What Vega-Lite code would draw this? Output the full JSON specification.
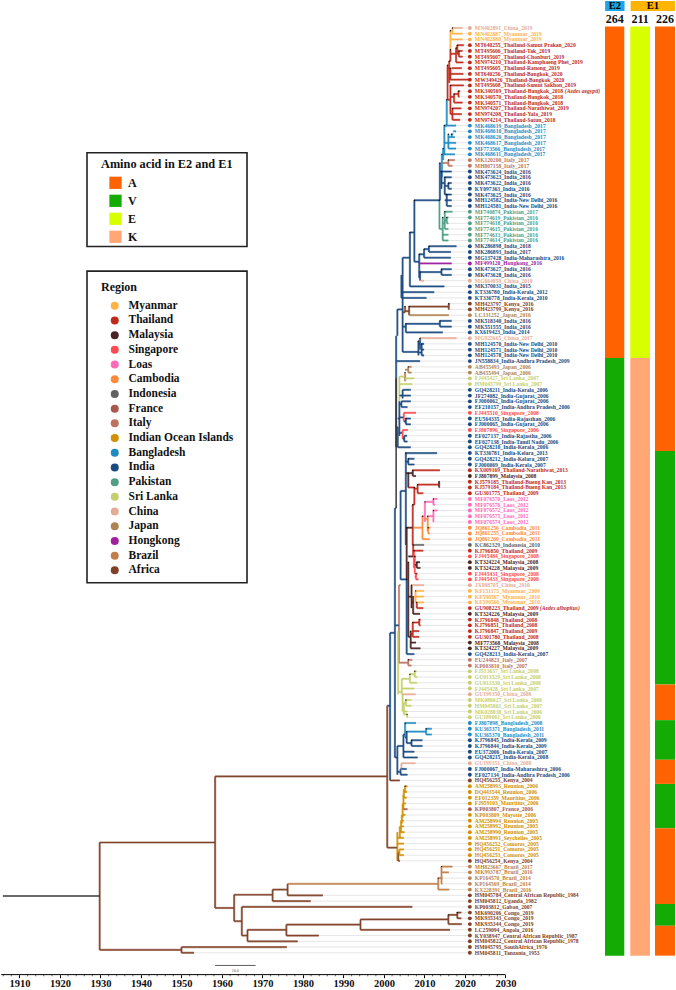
{"$schema":"https://vega.github.io/schema/vega-lite/v6.json","width":676,"height":990,"padding":0,"autosize":{"type":"fit","contains":"padding"},"background":"white",
"config":{"view":{"stroke":null},"axisY":{"disable":true},"text":{"font":"Liberation Serif"}},
"datasets":{
"tips":[
{"row":1,"label":"MN402891_China_2019","region":"China","start":2016.9,"end":2019.4},
{"row":2,"label":"MN402887_Myanmar_2019","region":"Myanmar","start":2016.9,"end":2019.4},
{"row":3,"label":"MN402888_Myanmar_2019","region":"Myanmar","start":2016.4,"end":2019.4},
{"row":4,"label":"MT640255_Thailand-Samut Prakan_2020","region":"Thailand","start":2018.1,"end":2019.7},
{"row":5,"label":"MT495606_Thailand-Tak_2019","region":"Thailand","start":2018.5,"end":2019.4},
{"row":6,"label":"MT495607_Thailand-Chonburi_2019","region":"Thailand","start":2018.5,"end":2019.4},
{"row":7,"label":"MN974210_Thailand-Kamphaeng Phet_2019","region":"Thailand","start":2017.8,"end":2019.6},
{"row":8,"label":"MT495605_Thailand-Ranong_2019","region":"Thailand","start":2016.7,"end":2019.2},
{"row":9,"label":"MT640256_Thailand-Bangkok_2020","region":"Thailand","start":2016.4,"end":2019.6},
{"row":10,"label":"MW349426_Thailand-Bangkok_2020","region":"Thailand","start":2016.4,"end":2021.1},
{"row":11,"label":"MT495608_Thailand-Samut Sakhon_2019","region":"Thailand","start":2016.4,"end":2019.7},
{"row":12,"label":"MK340569_Thailand-Bangkok_2018","region":"Thailand","start":2018.4,"end":2018.8,"note":"(Aedes aegypti)"},
{"row":13,"label":"MK340570_Thailand-Bangkok_2018","region":"Thailand","start":2018.4,"end":2018.6},
{"row":14,"label":"MK340571_Thailand-Bangkok_2018","region":"Thailand","start":2017.3,"end":2019.4},
{"row":15,"label":"MN974207_Thailand-Narathiwat_2019","region":"Thailand","start":2016.9,"end":2019.1},
{"row":16,"label":"MN974208_Thailand-Yala_2019","region":"Thailand","start":2016.9,"end":2019.2},
{"row":17,"label":"MN974214_Thailand-Satun_2018","region":"Thailand","start":2016.9,"end":2018.8},
{"row":18,"label":"MK468619_Bangladesh_2017","region":"Bangladesh","start":2014.9,"end":2017.8},
{"row":19,"label":"MK468610_Bangladesh_2017","region":"Bangladesh","start":2017.1,"end":2017.8},
{"row":20,"label":"MK468620_Bangladesh_2017","region":"Bangladesh","start":2016.7,"end":2017.5},
{"row":21,"label":"MK468617_Bangladesh_2017","region":"Bangladesh","start":2015.9,"end":2017.8},
{"row":22,"label":"MF773566_Bangladesh_2017","region":"Bangladesh","start":2015.9,"end":2017.8},
{"row":23,"label":"MK468611_Bangladesh_2017","region":"Bangladesh","start":2014.6,"end":2017.5},
{"row":24,"label":"MK120200_Italy_2017","region":"Italy","start":2015.9,"end":2017.5},
{"row":25,"label":"MH807158_Italy_2017","region":"Italy","start":2015.9,"end":2016.9},
{"row":26,"label":"MK473624_India_2016","region":"India","start":2014.2,"end":2016.7},
{"row":27,"label":"MK473623_India_2016","region":"India","start":2015,"end":2016.7},
{"row":28,"label":"MK473622_India_2016","region":"India","start":2015.9,"end":2016.7},
{"row":29,"label":"KY097363_India_2016","region":"India","start":2015.9,"end":2016.7},
{"row":30,"label":"MK473625_India_2016","region":"India","start":2015,"end":2016.7},
{"row":31,"label":"MH124582_India-New Delhi_2016","region":"India","start":2015.5,"end":2016.7},
{"row":32,"label":"MH124581_India-New Delhi_2016","region":"India","start":2015.5,"end":2016.7},
{"row":33,"label":"MF740874_Pakistan_2017","region":"Pakistan","start":2015,"end":2016.9},
{"row":34,"label":"MF774619_Pakistan_2016","region":"Pakistan","start":2015.5,"end":2015.9},
{"row":35,"label":"MF774618_Pakistan_2016","region":"Pakistan","start":2015.5,"end":2015.9},
{"row":36,"label":"MF774615_Pakistan_2016","region":"Pakistan","start":2015,"end":2015.9},
{"row":37,"label":"MF774613_Pakistan_2016","region":"Pakistan","start":2014.5,"end":2015.9},
{"row":38,"label":"MF774614_Pakistan_2016","region":"Pakistan","start":2014.5,"end":2015.9},
{"row":39,"label":"MK286898_India_2018","region":"India","start":2011.1,"end":2017.9},
{"row":40,"label":"MK286893_India_2017","region":"India","start":2011.1,"end":2016.5},
{"row":41,"label":"MG137428_India-Maharashtra_2016","region":"India","start":2009.9,"end":2016.5},
{"row":42,"label":"MF499120_Hongkong_2016","region":"Hongkong","start":2008.7,"end":2016.7},
{"row":43,"label":"MK473627_India_2016","region":"India","start":2014.2,"end":2016.7},
{"row":44,"label":"MK473628_India_2016","region":"India","start":2014.2,"end":2016.7},
{"row":45,"label":"MG664850_China_2010","region":"China","start":2008.9,"end":2009.9},
{"row":46,"label":"MK370031_India_2015","region":"India","start":2006.4,"end":2014.9},
{"row":47,"label":"KT336780_India-Kerala_2012","region":"India","start":2004.3,"end":2012.4},
{"row":48,"label":"KT336778_India-Kerala_2010","region":"India","start":2004.3,"end":2010.5},
{"row":49,"label":"MH423797_Kenya_2016","region":"Africa","start":2016,"end":2016.1},
{"row":50,"label":"MH423799_Kenya_2016","region":"Africa","start":2016,"end":2016.1},
{"row":51,"label":"LC331252_Japan_2016","region":"Japan","start":2006.2,"end":2016},
{"row":52,"label":"MK518340_India_2016","region":"India","start":2013.8,"end":2016.7},
{"row":53,"label":"MK551555_India_2016","region":"India","start":2013.8,"end":2016.7},
{"row":54,"label":"KX619423_India_2014","region":"India","start":2005.4,"end":2014.5},
{"row":55,"label":"MG925665_China_2017","region":"China","start":2008.9,"end":2017.9},
{"row":56,"label":"MH124570_India-New Delhi_2010","region":"India","start":2009.3,"end":2009.9},
{"row":57,"label":"MH124571_India-New Delhi_2010","region":"India","start":2009.3,"end":2009.9},
{"row":58,"label":"MH124578_India-New Delhi_2010","region":"India","start":2009.3,"end":2009.9},
{"row":59,"label":"JN558834_India-Andhra Pradesh_2009","region":"India","start":2003,"end":2008.9},
{"row":60,"label":"AB455493_Japan_2006","region":"Japan","start":2006,"end":2006.8},
{"row":61,"label":"AB455494_Japan_2006","region":"Japan","start":2006,"end":2006.8},
{"row":62,"label":"FJ445427_Sri Lanka_2007","region":"Sri Lanka","start":2005.2,"end":2007.5},
{"row":63,"label":"HM045799_Sri Lanka_2007","region":"Sri Lanka","start":2004.8,"end":2007},
{"row":64,"label":"GQ428211_India-Kerala_2006","region":"India","start":2004.6,"end":2006.6},
{"row":65,"label":"JF274082_India-Gujarat_2006","region":"India","start":2004.6,"end":2006.6},
{"row":66,"label":"FJ000062_India-Gujarat_2006","region":"India","start":2004.3,"end":2006.6},
{"row":67,"label":"EF210157_India-Andhra Pradesh_2006","region":"India","start":2004.3,"end":2005.8},
{"row":68,"label":"FJ445510_Singapore_2008","region":"Singapore","start":2004.9,"end":2007.9},
{"row":69,"label":"EU564335_India-Rajasthan_2006","region":"India","start":2005.4,"end":2006.6},
{"row":70,"label":"FJ000065_India-Gujarat_2006","region":"India","start":2005.4,"end":2006.6},
{"row":71,"label":"FJ807896_Singapore_2006","region":"Singapore","start":2004.6,"end":2005.9},
{"row":72,"label":"EF027137_India-Rajastha_2006","region":"India","start":2005,"end":2005.7},
{"row":73,"label":"EF027138_India-Tamil Nadu_2006","region":"India","start":2005,"end":2005.8},
{"row":74,"label":"GQ428210_India-Kerala_2006","region":"India","start":2003.4,"end":2006.6},
{"row":75,"label":"KT336781_India-Kelara_2013","region":"India","start":2005.3,"end":2013.1},
{"row":76,"label":"GQ428212_India-Kelara_2007","region":"India","start":2006,"end":2007.5},
{"row":77,"label":"FJ000069_India-Kerala_2007","region":"India","start":2006,"end":2007.5},
{"row":78,"label":"KX009169_Thailand-Narathiwat_2013","region":"Thailand","start":2007.1,"end":2013.8},
{"row":79,"label":"FJ807899_Malaysia_2008","region":"Malaysia","start":2007.1,"end":2007.9},
{"row":80,"label":"KJ579185_Thailand-Bueng Kan_2013","region":"Thailand","start":2013.6,"end":2013.7},
{"row":81,"label":"KJ579184_Thailand-Bueng Kan_2013","region":"Thailand","start":2013.6,"end":2013.7},
{"row":82,"label":"GU301775_Thailand_2009","region":"Thailand","start":2008.3,"end":2009.7},
{"row":83,"label":"MF076570_Laos_2012","region":"Loas","start":2012.2,"end":2013.2},
{"row":84,"label":"MF076576_Laos_2012","region":"Loas","start":2012.2,"end":2012.6},
{"row":85,"label":"MF076572_Laos_2012","region":"Loas","start":2012.2,"end":2013.2},
{"row":86,"label":"MF076575_Laos_2012","region":"Loas","start":2012.2,"end":2012.3},
{"row":87,"label":"MF076574_Laos_2012","region":"Loas","start":2012.2,"end":2012.3},
{"row":88,"label":"JQ861256_Cambodia_2011","region":"Cambodia","start":2010.9,"end":2011.5},
{"row":89,"label":"JQ861255_Cambodia_2011","region":"Cambodia","start":2010.9,"end":2011.3},
{"row":90,"label":"JQ861260_Cambodia_2011","region":"Cambodia","start":2009.5,"end":2011.3},
{"row":91,"label":"KC862329_Indonesia_2010","region":"Indonesia","start":2007.2,"end":2009.9},
{"row":92,"label":"KJ796850_Thailand_2009","region":"Thailand","start":2007.4,"end":2009.7},
{"row":93,"label":"FJ445484_Singapore_2008","region":"Singapore","start":2007.6,"end":2007.9},
{"row":94,"label":"KT324224_Malaysia_2008","region":"Malaysia","start":2008.1,"end":2008.9},
{"row":95,"label":"KT324228_Malaysia_2009","region":"Malaysia","start":2008.1,"end":2009},
{"row":96,"label":"FJ445431_Singapore_2008","region":"Singapore","start":2007.9,"end":2008.3},
{"row":97,"label":"FJ445433_Singapore_2008","region":"Singapore","start":2007.9,"end":2008.5},
{"row":98,"label":"JX088705_China_2010","region":"China","start":2006.8,"end":2009.9},
{"row":99,"label":"KF151175_Myanmar_2009","region":"Myanmar","start":2007.8,"end":2009.9},
{"row":100,"label":"KF590567_Myanmar_2010","region":"Myanmar","start":2007.8,"end":2009.9},
{"row":101,"label":"KF590566_Myanmar_2010","region":"Myanmar","start":2008.1,"end":2009.9},
{"row":102,"label":"GU908223_Thailand_2009","region":"Thailand","start":2008.5,"end":2009.7,"note":"(Aedes albopitus)"},
{"row":103,"label":"KT324226_Malaysia_2009","region":"Malaysia","start":2007.2,"end":2008.9},
{"row":104,"label":"KJ796848_Thailand_2008","region":"Thailand","start":2008.7,"end":2009},
{"row":105,"label":"KJ796851_Thailand_2008","region":"Thailand","start":2008.7,"end":2009},
{"row":106,"label":"KJ796847_Thailand_2009","region":"Thailand","start":2007.1,"end":2008.7},
{"row":107,"label":"GU301780_Thailand_2008","region":"Thailand","start":2007.1,"end":2008.7},
{"row":108,"label":"MF773568_Malaysia_2008","region":"Malaysia","start":2006.6,"end":2007.9},
{"row":109,"label":"KT324227_Malaysia_2009","region":"Malaysia","start":2006.6,"end":2009},
{"row":110,"label":"GQ428213_India-Kerala_2007","region":"India","start":2005.6,"end":2007.5},
{"row":111,"label":"EU244823_Italy_2007","region":"Italy","start":2006,"end":2007},
{"row":112,"label":"KP003810_Italy_2007","region":"Italy","start":2006,"end":2006.8},
{"row":113,"label":"FJ513637_Sri Lanka_2008","region":"Sri Lanka","start":2007.6,"end":2008.1},
{"row":114,"label":"GU013529_Sri Lanka_2008","region":"Sri Lanka","start":2007.6,"end":2008.2},
{"row":115,"label":"GU013530_Sri Lanka_2008","region":"Sri Lanka","start":2006.4,"end":2008.2},
{"row":116,"label":"FJ445428_Sri Lanka_2007","region":"Sri Lanka","start":2004.4,"end":2007.5},
{"row":117,"label":"GU199350_China_2008","region":"China","start":2004.6,"end":2007.8},
{"row":118,"label":"MK086027_Sri Lanka_2006","region":"Sri Lanka","start":2005.4,"end":2006.8},
{"row":119,"label":"HM045801_Sri Lanka_2007","region":"Sri Lanka","start":2005.4,"end":2006.8},
{"row":120,"label":"MK028838_Sri Lanka_2006","region":"Sri Lanka","start":2004.9,"end":2005.8},
{"row":121,"label":"GU189061_Sri Lanka_2006","region":"Sri Lanka","start":2005.7,"end":2005.9},
{"row":122,"label":"FJ807898_Bangladesh_2008","region":"Bangladesh","start":2005.2,"end":2007.9},
{"row":123,"label":"KU365371_Bangladesh_2011","region":"Bangladesh","start":2010.4,"end":2011.8},
{"row":124,"label":"KU365370_Bangladesh_2011","region":"Bangladesh","start":2010.4,"end":2011.8},
{"row":125,"label":"KJ796845_India-Kerala_2009","region":"India","start":2006.8,"end":2009.5},
{"row":126,"label":"KJ796844_India-Kerala_2009","region":"India","start":2006.8,"end":2009.5},
{"row":127,"label":"EU372006_India-Kerala_2007","region":"India","start":2004.8,"end":2007.5},
{"row":128,"label":"GQ428215_India-Kerala_2008","region":"India","start":2004.8,"end":2008.3},
{"row":129,"label":"GU199351_China_2008","region":"China","start":2004.3,"end":2007.8},
{"row":130,"label":"FJ000067_India-Maharashtra_2006","region":"India","start":2004.1,"end":2005.6},
{"row":131,"label":"EF027134_India-Andhra Pradesh_2006","region":"India","start":2004.1,"end":2005.8},
{"row":132,"label":"HQ456255_Kenya_2004","region":"Africa","start":2001.5,"end":2003.9},
{"row":133,"label":"AM258993_Reunion_2006","region":"Indian Ocean Islands","start":2005.2,"end":2005.8},
{"row":134,"label":"DQ443544_Reunion_2006","region":"Indian Ocean Islands","start":2004.9,"end":2005.7},
{"row":135,"label":"EF012359_Mauritius_2006","region":"Indian Ocean Islands","start":2004.8,"end":2005.6},
{"row":136,"label":"FJ959103_Mauritius_2006","region":"Indian Ocean Islands","start":2004.8,"end":2005.4},
{"row":137,"label":"KP003807_France_2006","region":"France","start":2004.8,"end":2005.8},
{"row":138,"label":"KP003809_Mayotte_2006","region":"Indian Ocean Islands","start":2004.6,"end":2005.3},
{"row":139,"label":"AM258994_Reunion_2005","region":"Indian Ocean Islands","start":2004.4,"end":2004.9},
{"row":140,"label":"AM258992_Reunion_2005","region":"Indian Ocean Islands","start":2004.2,"end":2004.9},
{"row":141,"label":"AM258990_Reunion_2005","region":"Indian Ocean Islands","start":2003.9,"end":2005.1},
{"row":142,"label":"AM258991_Seychelles_2005","region":"Indian Ocean Islands","start":2003.3,"end":2004.9},
{"row":143,"label":"HQ456252_Comoros_2005","region":"Indian Ocean Islands","start":2003.3,"end":2004.9},
{"row":144,"label":"HQ456251_Comoros_2005","region":"Indian Ocean Islands","start":2003.8,"end":2004.9},
{"row":145,"label":"HQ456253_Comoros_2005","region":"Indian Ocean Islands","start":2003.8,"end":2004.9},
{"row":146,"label":"HQ456254_Kenya_2004","region":"Africa","start":2003.5,"end":2003.9},
{"row":147,"label":"MH823667_Brazil_2017","region":"Brazil","start":2014.2,"end":2016.9},
{"row":148,"label":"MK993787_Brazil_2016","region":"Brazil","start":2014.2,"end":2016},
{"row":149,"label":"KP164570_Brazil_2014","region":"Brazil","start":2014.2,"end":2014.4},
{"row":150,"label":"KP164569_Brazil_2014","region":"Brazil","start":2014.2,"end":2014.4},
{"row":151,"label":"KX228391_Brazil_2016","region":"Brazil","start":2013.4,"end":2016.1},
{"row":152,"label":"HM045784_Central African Republic_1984","region":"Africa","start":1976.2,"end":1984.9},
{"row":153,"label":"HM045812_Uganda_1982","region":"Africa","start":1972.5,"end":1981.9},
{"row":154,"label":"KP003812_Gabon_2007","region":"Africa","start":1964.9,"end":2007},
{"row":155,"label":"MK690206_Congo_2019","region":"Africa","start":2018.1,"end":2019.1},
{"row":156,"label":"MK935343_Congo_2019","region":"Africa","start":2018.1,"end":2019.1},
{"row":157,"label":"MK935344_Congo_2019","region":"Africa","start":2015.9,"end":2019.2},
{"row":158,"label":"LC259094_Angola_2016","region":"Africa","start":1994.2,"end":2016.3},
{"row":159,"label":"KY038947_Central African Republic_1987","region":"Africa","start":1975.9,"end":1983.9},
{"row":160,"label":"HM045822_Central African Republic_1978","region":"Africa","start":1966.3,"end":1978.7},
{"row":161,"label":"HM045795_SouthAfrica_1976","region":"Africa","start":1950,"end":1976},
{"row":162,"label":"HM045811_Tanzania_1953","region":"Africa","start":1950,"end":1953.1}
],
"branches":[
{"x":2016.4,"x2":2016.9,"y":1.5,"y2":1.5,"region":"China"},{"x":2016.9,"x2":2016.9,"y":1,"y2":2,"region":"Myanmar"},{"x":2016.4,"x2":2016.4,"y":1.5,"y2":4.8,"region":"Myanmar"},
{"x":2016.4,"x2":2016.4,"y":4.8,"y2":6.8,"region":"Thailand"},{"x":2016.1,"x2":2016.1,"y":6.8,"y2":10.6,"region":"Thailand"},{"x":2016.1,"x2":2016.4,"y":6.8,"y2":6.8,"region":"Thailand"},{"x":2016.4,"x2":2017.8,"y":5.5,"y2":5.5,"region":"Thailand"},{"x":2017.8,"x2":2017.8,"y":4.5,"y2":7,"region":"Thailand"},{"x":2017.8,"x2":2018.1,"y":4.5,"y2":4.5,"region":"Thailand"},{"x":2018.1,"x2":2018.1,"y":4,"y2":5.5,"region":"Thailand"},{"x":2018.1,"x2":2018.5,"y":5.5,"y2":5.5,"region":"Thailand"},{"x":2018.5,"x2":2018.5,"y":5,"y2":6,"region":"Thailand"},{"x":2016.4,"x2":2016.4,"y":8,"y2":10,"region":"Thailand"},{"x":2016.1,"x2":2016.4,"y":9,"y2":9,"region":"Thailand"},{"x":2015.7,"x2":2015.7,"y":7.5,"y2":13.5,"region":"Thailand"},{"x":2015.7,"x2":2016.1,"y":8,"y2":8,"region":"Thailand"},{"x":2015.7,"x2":2016.4,"y":13.5,"y2":13.5,"region":"Thailand"},{"x":2016.4,"x2":2016.4,"y":11,"y2":16,"region":"Thailand"},{"x":2016.4,"x2":2017.3,"y":13,"y2":13,"region":"Thailand"},{"x":2017.3,"x2":2017.3,"y":12.5,"y2":14,"region":"Thailand"},{"x":2017.3,"x2":2018.4,"y":12.5,"y2":12.5,"region":"Thailand"},{"x":2018.4,"x2":2018.4,"y":12,"y2":13,"region":"Thailand"},{"x":2016.4,"x2":2016.9,"y":16,"y2":16,"region":"Thailand"},{"x":2016.9,"x2":2016.9,"y":15,"y2":17,"region":"Thailand"},
{"x":2015.5,"x2":2015.5,"y":13.5,"y2":18,"region":"Bangladesh"},{"x":2014.9,"x2":2015.5,"y":18,"y2":18,"region":"Bangladesh"},{"x":2014.9,"x2":2014.9,"y":18,"y2":23,"region":"Bangladesh"},{"x":2014.9,"x2":2015.9,"y":21,"y2":21,"region":"Bangladesh"},{"x":2015.9,"x2":2015.9,"y":19.5,"y2":22,"region":"Bangladesh"},{"x":2015.9,"x2":2016.7,"y":20,"y2":20,"region":"Bangladesh"},{"x":2016.7,"x2":2016.7,"y":19.5,"y2":20,"region":"Bangladesh"},{"x":2016.7,"x2":2017.1,"y":19.5,"y2":19.5,"region":"Bangladesh"},{"x":2014.6,"x2":2014.6,"y":22,"y2":24,"region":"Bangladesh"},{"x":2014.3,"x2":2015.9,"y":24.5,"y2":24.5,"region":"Italy"},{"x":2015.9,"x2":2015.9,"y":24,"y2":25,"region":"Italy"},{"x":2014.3,"x2":2014.3,"y":23,"y2":27,"region":"Bangladesh"},
{"x":2013.8,"x2":2013.8,"y":24.5,"y2":31,"region":"India"},{"x":2013.8,"x2":2014.2,"y":26,"y2":26,"region":"India"},{"x":2014.2,"x2":2014.2,"y":26,"y2":29,"region":"India"},{"x":2014.2,"x2":2015,"y":28,"y2":28,"region":"India"},{"x":2015,"x2":2015,"y":27,"y2":30,"region":"India"},{"x":2015,"x2":2015.9,"y":28.5,"y2":28.5,"region":"India"},{"x":2015.9,"x2":2015.9,"y":28,"y2":29,"region":"India"},{"x":2015.5,"x2":2015.5,"y":30,"y2":32,"region":"India"},{"x":2015,"x2":2015.5,"y":31,"y2":31,"region":"India"},
{"x":2013.7,"x2":2013.7,"y":31,"y2":36,"region":"Pakistan"},{"x":2013.7,"x2":2014.5,"y":36,"y2":36,"region":"Pakistan"},{"x":2014.5,"x2":2014.5,"y":34,"y2":38,"region":"Pakistan"},{"x":2014.5,"x2":2015,"y":35,"y2":35,"region":"Pakistan"},{"x":2015,"x2":2015,"y":33,"y2":36,"region":"Pakistan"},{"x":2015,"x2":2015.5,"y":34.5,"y2":34.5,"region":"Pakistan"},{"x":2015.5,"x2":2015.5,"y":34,"y2":35,"region":"Pakistan"},
{"x":2007.5,"x2":2013.7,"y":31,"y2":31,"region":"India"},{"x":2007.5,"x2":2007.5,"y":31,"y2":41.7,"region":"India"},{"x":2006.4,"x2":2007.5,"y":36.6,"y2":36.6,"region":"India"},{"x":2006.4,"x2":2006.4,"y":36.6,"y2":46,"region":"India"},{"x":2007.5,"x2":2008.7,"y":41.7,"y2":41.7,"region":"India"},{"x":2008.7,"x2":2008.7,"y":40.4,"y2":44.5,"region":"India"},{"x":2008.7,"x2":2009.9,"y":40.4,"y2":40.4,"region":"India"},{"x":2009.9,"x2":2009.9,"y":39.5,"y2":41,"region":"India"},{"x":2009.9,"x2":2011.1,"y":39.5,"y2":39.5,"region":"India"},{"x":2011.1,"x2":2011.1,"y":39,"y2":40,"region":"India"},{"x":2008.9,"x2":2014.2,"y":43.5,"y2":43.5,"region":"India"},{"x":2008.9,"x2":2008.9,"y":43.5,"y2":45,"region":"India"},{"x":2014.2,"x2":2014.2,"y":43,"y2":44,"region":"India"},
{"x":2004.6,"x2":2006.4,"y":41,"y2":41,"region":"India"},{"x":2004.6,"x2":2004.6,"y":41,"y2":57.4,"region":"India"},{"x":2004.3,"x2":2004.3,"y":44,"y2":48,"region":"India"},{"x":2004.3,"x2":2004.6,"y":46,"y2":46,"region":"India"},
{"x":2004.6,"x2":2005.2,"y":50.5,"y2":50.5,"region":"Africa"},{"x":2005.2,"x2":2005.2,"y":49.5,"y2":50.5,"region":"Africa"},{"x":2005.2,"x2":2006.2,"y":50.3,"y2":50.3,"region":"Africa"},{"x":2006.2,"x2":2006.2,"y":49.5,"y2":51,"region":"Africa"},{"x":2006.2,"x2":2016,"y":49.5,"y2":49.5,"region":"Africa"},{"x":2016,"x2":2016,"y":49,"y2":50,"region":"Africa"},
{"x":2004.6,"x2":2005.4,"y":53,"y2":53,"region":"India"},{"x":2005.4,"x2":2005.4,"y":52.5,"y2":54,"region":"India"},{"x":2005.4,"x2":2013.8,"y":52.5,"y2":52.5,"region":"India"},{"x":2013.8,"x2":2013.8,"y":52,"y2":53,"region":"India"},
{"x":2004.6,"x2":2008.5,"y":57.4,"y2":57.4,"region":"India"},{"x":2008.5,"x2":2008.5,"y":55.5,"y2":58,"region":"India"},{"x":2008.9,"x2":2008.9,"y":55,"y2":57,"region":"India"},{"x":2008.5,"x2":2008.9,"y":56,"y2":56,"region":"India"},{"x":2008.5,"x2":2009.3,"y":57.5,"y2":57.5,"region":"India"},{"x":2009.3,"x2":2009.3,"y":56,"y2":58,"region":"India"},
{"x":2003.3,"x2":2004.6,"y":50,"y2":50,"region":"India"},{"x":2003.3,"x2":2003.3,"y":50,"y2":54.6,"region":"India"},{"x":2003,"x2":2003,"y":54.6,"y2":74,"region":"India"},
{"x":2003,"x2":2003.4,"y":70.5,"y2":70.5,"region":"India"},{"x":2003.4,"x2":2003.4,"y":70.5,"y2":74,"region":"India"},{"x":2003.4,"x2":2003.8,"y":69,"y2":69,"region":"India"},{"x":2003.8,"x2":2005.2,"y":61.7,"y2":61.7,"region":"Sri Lanka"},{"x":2005.2,"x2":2005.2,"y":61,"y2":62.5,"region":"Japan"},{"x":2005.2,"x2":2006,"y":60.5,"y2":60.5,"region":"Japan"},{"x":2006,"x2":2006,"y":60,"y2":61,"region":"Japan"},{"x":2003.8,"x2":2004.8,"y":63,"y2":63,"region":"Sri Lanka"},{"x":2003.8,"x2":2003.8,"y":61.7,"y2":66,"region":"Sri Lanka"},{"x":2003.8,"x2":2003.8,"y":66,"y2":72,"region":"India"},
{"x":2003.8,"x2":2004.6,"y":65,"y2":65,"region":"India"},{"x":2004.6,"x2":2004.6,"y":64,"y2":65.5,"region":"India"},{"x":2003.8,"x2":2004.3,"y":66.5,"y2":66.5,"region":"India"},{"x":2004.3,"x2":2004.3,"y":66,"y2":67,"region":"India"},
{"x":2003.8,"x2":2004.9,"y":68.8,"y2":68.8,"region":"India"},{"x":2004.9,"x2":2004.9,"y":68,"y2":69.5,"region":"Singapore"},{"x":2004.9,"x2":2005.4,"y":69.5,"y2":69.5,"region":"India"},{"x":2005.4,"x2":2005.4,"y":69,"y2":70,"region":"India"},
{"x":2003.8,"x2":2004.6,"y":71.5,"y2":71.5,"region":"India"},{"x":2004.6,"x2":2004.6,"y":71,"y2":72.5,"region":"Singapore"},{"x":2004.6,"x2":2005,"y":72.5,"y2":72.5,"region":"India"},{"x":2005,"x2":2005,"y":72,"y2":73,"region":"India"},
{"x":2005.4,"x2":2005.4,"y":75,"y2":91,"region":"India"},{"x":2004.1,"x2":2005.4,"y":81.6,"y2":81.6,"region":"India"},{"x":2004.1,"x2":2004.1,"y":81.6,"y2":97,"region":"India"},{"x":2005.4,"x2":2006,"y":76.5,"y2":76.5,"region":"India"},{"x":2006,"x2":2006,"y":76,"y2":77,"region":"India"},{"x":2005.4,"x2":2006,"y":78.5,"y2":78.5,"region":"Malaysia"},{"x":2006,"x2":2006,"y":78.5,"y2":81,"region":"Malaysia"},{"x":2006,"x2":2007.1,"y":78.5,"y2":78.5,"region":"Malaysia"},{"x":2007.1,"x2":2007.1,"y":78,"y2":79,"region":"Malaysia"},
{"x":2006,"x2":2007.5,"y":81,"y2":81,"region":"Thailand"},{"x":2007.5,"x2":2007.5,"y":81,"y2":84,"region":"Thailand"},{"x":2007.5,"x2":2008.3,"y":81.2,"y2":81.2,"region":"Thailand"},{"x":2008.3,"x2":2008.3,"y":80.5,"y2":82,"region":"Thailand"},{"x":2008.3,"x2":2013.6,"y":80.5,"y2":80.5,"region":"Thailand"},{"x":2013.6,"x2":2013.6,"y":80,"y2":81,"region":"Malaysia"},
{"x":2007.1,"x2":2009.5,"y":88,"y2":88,"region":"Cambodia"},{"x":2007.1,"x2":2007.1,"y":84,"y2":91,"region":"Thailand"},{"x":2007.1,"x2":2007.5,"y":84,"y2":84,"region":"Thailand"},{"x":2009.5,"x2":2009.5,"y":86,"y2":90,"region":"Cambodia"},{"x":2009.5,"x2":2010.1,"y":86,"y2":86,"region":"Cambodia"},{"x":2010.1,"x2":2010.1,"y":83.5,"y2":87,"region":"Loas"},{"x":2010.1,"x2":2012.2,"y":83.5,"y2":83.5,"region":"Loas"},{"x":2012.2,"x2":2012.2,"y":83,"y2":84,"region":"Loas"},{"x":2010.1,"x2":2010.8,"y":86.5,"y2":86.5,"region":"Cambodia"},{"x":2010.8,"x2":2010.8,"y":86,"y2":88.5,"region":"Cambodia"},{"x":2010.8,"x2":2012.2,"y":86,"y2":86,"region":"Loas"},{"x":2012.2,"x2":2012.2,"y":85,"y2":87,"region":"Loas"},{"x":2010.8,"x2":2010.9,"y":88.5,"y2":88.5,"region":"Cambodia"},{"x":2010.9,"x2":2010.9,"y":88,"y2":89,"region":"Cambodia"},
{"x":2005.6,"x2":2005.6,"y":88,"y2":97,"region":"Malaysia"},{"x":2005.6,"x2":2007.1,"y":88,"y2":88,"region":"Malaysia"},{"x":2006,"x2":2006,"y":94,"y2":107,"region":"Malaysia"},{"x":2006,"x2":2007.2,"y":93,"y2":93,"region":"Malaysia"},{"x":2007.2,"x2":2007.2,"y":91,"y2":93,"region":"Thailand"},{"x":2007.4,"x2":2007.4,"y":92,"y2":95,"region":"Singapore"},{"x":2007.4,"x2":2007.6,"y":93,"y2":93,"region":"Singapore"},{"x":2007.6,"x2":2007.6,"y":93,"y2":96,"region":"Singapore"},{"x":2007.6,"x2":2008.1,"y":94.5,"y2":94.5,"region":"Malaysia"},{"x":2008.1,"x2":2008.1,"y":94,"y2":95,"region":"Malaysia"},{"x":2007.9,"x2":2007.9,"y":96,"y2":97,"region":"Singapore"},{"x":2007.6,"x2":2007.9,"y":96.5,"y2":96.5,"region":"Singapore"},
{"x":2006.8,"x2":2006.8,"y":98,"y2":102,"region":"Malaysia"},{"x":2006,"x2":2006.8,"y":100,"y2":100,"region":"Malaysia"},{"x":2007.2,"x2":2007.2,"y":100,"y2":103,"region":"Malaysia"},{"x":2006.8,"x2":2007.2,"y":101,"y2":101,"region":"Malaysia"},{"x":2007.2,"x2":2007.8,"y":100,"y2":100,"region":"Myanmar"},{"x":2007.8,"x2":2007.8,"y":99,"y2":101,"region":"Myanmar"},{"x":2007.8,"x2":2008.1,"y":101,"y2":101,"region":"Myanmar"},{"x":2008.1,"x2":2008.1,"y":101,"y2":102,"region":"Thailand"},{"x":2008.1,"x2":2008.5,"y":102,"y2":102,"region":"Thailand"},
{"x":2006.6,"x2":2006.6,"y":106,"y2":109,"region":"Malaysia"},{"x":2006,"x2":2006.6,"y":107,"y2":107,"region":"Malaysia"},{"x":2007.1,"x2":2007.1,"y":104.5,"y2":107,"region":"Thailand"},{"x":2006.6,"x2":2007.1,"y":106.5,"y2":106.5,"region":"Thailand"},{"x":2007.1,"x2":2008.7,"y":104.5,"y2":104.5,"region":"Thailand"},{"x":2008.7,"x2":2008.7,"y":104,"y2":105,"region":"Thailand"},
{"x":2005.6,"x2":2005.6,"y":97,"y2":110,"region":"India"},{"x":2004.1,"x2":2005.6,"y":97,"y2":97,"region":"India"},
{"x":2003.7,"x2":2006,"y":111.5,"y2":111.5,"region":"Italy"},{"x":2003.7,"x2":2003.7,"y":98,"y2":111.5,"region":"Italy"},{"x":2003.7,"x2":2004.1,"y":98,"y2":98,"region":"Italy"},{"x":2006,"x2":2006,"y":111,"y2":112,"region":"Italy"},
{"x":2003.5,"x2":2003.5,"y":106,"y2":117,"region":"Sri Lanka"},{"x":2003.5,"x2":2003.7,"y":108,"y2":108,"region":"Sri Lanka"},{"x":2002.7,"x2":2003.7,"y":105,"y2":105,"region":"India"},
{"x":2003.5,"x2":2004.4,"y":116.6,"y2":116.6,"region":"Sri Lanka"},{"x":2004.4,"x2":2004.4,"y":114.3,"y2":117,"region":"Sri Lanka"},{"x":2004.4,"x2":2006.4,"y":114.3,"y2":114.3,"region":"Sri Lanka"},{"x":2006.4,"x2":2006.4,"y":113.5,"y2":115,"region":"Sri Lanka"},{"x":2006.4,"x2":2007.6,"y":113.5,"y2":113.5,"region":"Sri Lanka"},{"x":2007.6,"x2":2007.6,"y":113,"y2":114,"region":"Sri Lanka"},{"x":2004.6,"x2":2004.6,"y":117,"y2":120,"region":"Sri Lanka"},{"x":2004.4,"x2":2004.6,"y":117,"y2":117,"region":"Sri Lanka"},{"x":2004.6,"x2":2004.9,"y":119,"y2":119,"region":"Sri Lanka"},{"x":2004.9,"x2":2004.9,"y":118.5,"y2":120.5,"region":"Sri Lanka"},{"x":2004.9,"x2":2005.4,"y":118.5,"y2":118.5,"region":"Sri Lanka"},{"x":2005.4,"x2":2005.4,"y":118,"y2":119,"region":"Sri Lanka"},{"x":2004.9,"x2":2005.7,"y":120.5,"y2":120.5,"region":"Sri Lanka"},{"x":2005.7,"x2":2005.7,"y":120.5,"y2":121,"region":"Sri Lanka"},
{"x":2002.7,"x2":2002.7,"y":84.6,"y2":128,"region":"India"},{"x":2001.5,"x2":2002.7,"y":106.3,"y2":106.3,"region":"India"},{"x":2001.5,"x2":2001.5,"y":106.3,"y2":132,"region":"India"},{"x":2002.7,"x2":2003.3,"y":128,"y2":128,"region":"India"},{"x":2003.3,"x2":2003.3,"y":126,"y2":131,"region":"India"},{"x":2003.3,"x2":2004.8,"y":126,"y2":126,"region":"India"},{"x":2004.8,"x2":2004.8,"y":124,"y2":128,"region":"India"},{"x":2005.2,"x2":2005.2,"y":122,"y2":124.5,"region":"Bangladesh"},{"x":2004.8,"x2":2005.2,"y":124,"y2":124,"region":"India"},{"x":2005.6,"x2":2005.6,"y":123.5,"y2":125.5,"region":"India"},{"x":2005.2,"x2":2005.6,"y":124.5,"y2":124.5,"region":"India"},{"x":2005.6,"x2":2010.4,"y":123.5,"y2":123.5,"region":"Bangladesh"},{"x":2010.4,"x2":2010.4,"y":123,"y2":124,"region":"Bangladesh"},{"x":2005.6,"x2":2006.8,"y":125.5,"y2":125.5,"region":"India"},{"x":2006.8,"x2":2006.8,"y":125,"y2":126,"region":"India"},
{"x":2003.3,"x2":2004.1,"y":130.5,"y2":130.5,"region":"India"},{"x":2004.1,"x2":2004.1,"y":130,"y2":131,"region":"India"},{"x":2004.3,"x2":2004.3,"y":129,"y2":130.5,"region":"China"},
{"x":2000.8,"x2":2001.5,"y":119,"y2":119,"region":"India"},{"x":2000.8,"x2":2000.8,"y":119,"y2":143.7,"region":"Africa"},{"x":1958.3,"x2":2000.8,"y":131.3,"y2":131.3,"region":"Africa"},{"x":2000.8,"x2":2003.3,"y":143.7,"y2":143.7,"region":"Africa"},
{"x":2005.2,"x2":2005.2,"y":133,"y2":134,"region":"Indian Ocean Islands"},{"x":2004.9,"x2":2004.9,"y":133.5,"y2":135,"region":"Indian Ocean Islands"},{"x":2004.8,"x2":2004.8,"y":134.5,"y2":137,"region":"Indian Ocean Islands"},{"x":2004.6,"x2":2004.6,"y":136,"y2":138.5,"region":"Indian Ocean Islands"},{"x":2004.4,"x2":2004.4,"y":138,"y2":139.5,"region":"Indian Ocean Islands"},{"x":2004.2,"x2":2004.2,"y":139,"y2":141,"region":"Indian Ocean Islands"},{"x":2003.9,"x2":2003.9,"y":140,"y2":142,"region":"Indian Ocean Islands"},{"x":2003.3,"x2":2003.3,"y":141,"y2":146,"region":"Indian Ocean Islands"},{"x":2003.5,"x2":2003.5,"y":144.5,"y2":146,"region":"Africa"},{"x":2003.3,"x2":2003.8,"y":144.5,"y2":144.5,"region":"Indian Ocean Islands"},{"x":2003.8,"x2":2003.8,"y":144,"y2":145,"region":"Indian Ocean Islands"},
{"x":1929.8,"x2":1929.8,"y":142.8,"y2":161.5,"region":"Africa"},{"x":1929.8,"x2":1958.3,"y":142.8,"y2":142.8,"region":"Africa"},{"x":1958.3,"x2":1958.3,"y":131.3,"y2":154.2,"region":"Africa"},{"x":1958.3,"x2":1963,"y":154.2,"y2":154.2,"region":"Africa"},{"x":1963,"x2":1963,"y":151.9,"y2":156.5,"region":"Africa"},{"x":1963,"x2":1972.5,"y":151.9,"y2":151.9,"region":"Africa"},{"x":1972.5,"x2":1972.5,"y":151,"y2":153,"region":"Africa"},{"x":1972.5,"x2":1976.2,"y":151,"y2":151,"region":"Africa"},{"x":1976.2,"x2":1976.2,"y":150,"y2":152,"region":"Africa"},{"x":1976.2,"x2":2013.4,"y":150,"y2":150,"region":"Brazil"},{"x":2013.4,"x2":2013.4,"y":149,"y2":151,"region":"Brazil"},{"x":2013.4,"x2":2014.2,"y":149,"y2":149,"region":"Brazil"},{"x":2014.2,"x2":2014.2,"y":147,"y2":150,"region":"Brazil"},
{"x":1963,"x2":1964.9,"y":156.5,"y2":156.5,"region":"Africa"},{"x":1964.9,"x2":1964.9,"y":154,"y2":159,"region":"Africa"},{"x":1964.9,"x2":1966.3,"y":159,"y2":159,"region":"Africa"},{"x":1966.3,"x2":1966.3,"y":158,"y2":160,"region":"Africa"},{"x":1966.3,"x2":1975.9,"y":158,"y2":158,"region":"Africa"},{"x":1975.9,"x2":1975.9,"y":157.1,"y2":159,"region":"Africa"},{"x":1975.9,"x2":1994.2,"y":157.1,"y2":157.1,"region":"Africa"},{"x":1994.2,"x2":1994.2,"y":156.2,"y2":158,"region":"Africa"},{"x":1994.2,"x2":2015.9,"y":156.2,"y2":156.2,"region":"Africa"},{"x":2015.9,"x2":2015.9,"y":155.4,"y2":157,"region":"Africa"},{"x":2015.9,"x2":2018.1,"y":155.4,"y2":155.4,"region":"Africa"},{"x":2018.1,"x2":2018.1,"y":155,"y2":156,"region":"Africa"},
{"x":1929.8,"x2":1950,"y":161.5,"y2":161.5,"region":"Africa"},{"x":1950,"x2":1950,"y":161,"y2":162,"region":"Africa"}
],
"spine":[{"x":1905.9,"x2":1929.8,"y":152.1,"y2":152.1},{"x":2003,"x2":2003,"y":62,"y2":84.6},{"x":2002.7,"x2":2003,"y":84.6,"y2":84.6}],
"residues":[
{"site":"E2 264","residue":"A","from":0.77,"to":58.45},{"site":"E2 264","residue":"V","from":58.45,"to":162.5},
{"site":"E1 211","residue":"E","from":0.77,"to":58.45},{"site":"E1 211","residue":"K","from":58.45,"to":162.5},
{"site":"E1 226","residue":"A","from":0.77,"to":74.66},{"site":"E1 226","residue":"V","from":74.66,"to":115.3},{"site":"E1 226","residue":"A","from":115.3,"to":121.5},{"site":"E1 226","residue":"V","from":121.5,"to":128.4},{"site":"E1 226","residue":"A","from":128.4,"to":132.6},{"site":"E1 226","residue":"V","from":132.6,"to":140.3},{"site":"E1 226","residue":"A","from":140.3,"to":153.5},{"site":"E1 226","residue":"V","from":153.5,"to":157.3},{"site":"E1 226","residue":"A","from":157.3,"to":162.5}
],
"one":[{"name":"axis"}],
"minor":[{"year":1906},{"year":1908},{"year":1912},{"year":1914},{"year":1916},{"year":1918},{"year":1922},{"year":1924},{"year":1926},{"year":1928},{"year":1932},{"year":1934},{"year":1936},{"year":1938},{"year":1942},{"year":1944},{"year":1946},{"year":1948},{"year":1952},{"year":1954},{"year":1956},{"year":1958},{"year":1962},{"year":1964},{"year":1966},{"year":1968},{"year":1972},{"year":1974},{"year":1976},{"year":1978},{"year":1982},{"year":1984},{"year":1986},{"year":1988},{"year":1992},{"year":1994},{"year":1996},{"year":1998},{"year":2002},{"year":2004},{"year":2006},{"year":2008},{"year":2012},{"year":2014},{"year":2016},{"year":2018},{"year":2022},{"year":2024},{"year":2026},{"year":2028}]
},
"layer":[
{"data":{"name":"tips"},"mark":{"type":"rule","stroke":"#e6e6e6","strokeWidth":1},"encoding":{
"x":{"field":"end","type":"quantitative","scale":{"domain":[1905.19,2072.1],"nice":false,"zero":false},"axis":{"values":[1910,1920,1930,1940,1950,1960,1970,1980,1990,2000,2010,2020,2030],"title":null,"domain":false,"grid":false,"offset":-13.3,"tickColor":"#000","tickSize":3,"tickWidth":1,"labelFont":"Liberation Serif","labelFontWeight":"bold","labelFontSize":10.5,"labelColor":"#111","labelPadding":1,"labelFlush":false,"labelOverlap":false,"format":"d"}},
"x2":{"datum":2021.2},
"y":{"field":"row","type":"quantitative","scale":{"domain":[-3.864,168.13],"nice":false,"zero":false,"reverse":true},"axis":null}}},
{"data":{"name":"tips"},"mark":{"type":"point","filled":true,"size":15,"opacity":1},"encoding":{
"x":{"datum":2021.2},"y":{"field":"row","type":"quantitative","axis":null},
"color":{"field":"region","type":"nominal","scale":{"domain":["Myanmar","Thailand","Malaysia","Singapore","Loas","Cambodia","Indonesia","France","Italy","Indian Ocean Islands","Bangladesh","India","Pakistan","Sri Lanka","China","Japan","Hongkong","Brazil","Africa"],"range":["#ffb347","#bf2a1c","#4a2424","#ff4a4f","#ff69b9","#ff8a3c","#616160","#a8584f","#bc7360","#d29000","#1e8bc3","#1a4a80","#4f9e85","#c5cf6c","#e5ac95","#af8452","#a0209e","#c07f4a","#7f4027"]},"legend":{"orient":"none","legendX":101,"legendY":282,"title":"Region","titleFont":"Liberation Serif","titleFontSize":12,"titleFontWeight":"bold","titleColor":"#111","titlePadding":6,"labelFont":"Liberation Serif","labelFontSize":11.5,"labelFontWeight":"bold","labelColor":"#111","labelOffset":8,"labelLimit":200,"symbolType":"circle","symbolSize":64,"symbolStrokeWidth":0,"symbolOffset":8,"symbolOpacity":1,"rowPadding":1.7,"padding":0}}}},
{"data":{"name":"residues"},"transform":[{"filter":"datum.site=='E2 264'"}],"mark":{"type":"rect"},"encoding":{
"x":{"datum":2054.57},"x2":{"datum":2059.33},"y":{"field":"from","type":"quantitative","axis":null},"y2":{"field":"to"},
"fill":{"field":"residue","type":"nominal","scale":{"domain":["A","V","E","K"],"range":["#ff6200","#14ab05","#d8ff00","#ffa875"]},"legend":{"orient":"none","legendX":101,"legendY":158,"title":"Amino acid in E2 and E1","titleFont":"Liberation Serif","titleFontSize":12.3,"titleFontWeight":"bold","titleColor":"#111","titlePadding":6,"titleLimit":200,"labelFont":"Liberation Serif","labelFontSize":12,"labelFontWeight":"bold","labelColor":"#111","labelOffset":6,"symbolType":"square","symbolSize":150,"symbolStrokeWidth":0,"symbolOffset":8,"rowPadding":5,"padding":0}}}},
{"data":{"name":"residues"},"transform":[{"filter":"datum.site=='E1 211'"}],"mark":{"type":"rect"},"encoding":{
"x":{"datum":2060.81},"x2":{"datum":2065.68},"y":{"field":"from","type":"quantitative","axis":null},"y2":{"field":"to"},
"fill":{"field":"residue","type":"nominal","legend":null}}},
{"data":{"name":"residues"},"transform":[{"filter":"datum.site=='E1 226'"}],"mark":{"type":"rect"},"encoding":{
"x":{"datum":2066.91},"x2":{"datum":2071.85},"y":{"field":"from","type":"quantitative","axis":null},"y2":{"field":"to"},
"fill":{"field":"residue","type":"nominal","legend":null}}},
{"data":{"name":"branches"},"mark":{"type":"rule","strokeWidth":2.2,"opacity":0.6},"encoding":{
"x":{"field":"x","type":"quantitative"},"x2":{"field":"x2"},"y":{"field":"y","type":"quantitative","axis":null},"y2":{"field":"y2"},
"color":{"field":"region","type":"nominal","legend":null}}},
{"data":{"name":"tips"},"mark":{"type":"rule","strokeWidth":2.2,"opacity":0.6},"encoding":{
"x":{"field":"start","type":"quantitative"},"x2":{"field":"end"},"y":{"field":"row","type":"quantitative","axis":null},
"color":{"field":"region","type":"nominal","legend":null}}},
{"data":{"name":"branches"},"mark":{"type":"rule","strokeWidth":1},"encoding":{
"x":{"field":"x","type":"quantitative"},"x2":{"field":"x2"},"y":{"field":"y","type":"quantitative","axis":null},"y2":{"field":"y2"},
"color":{"field":"region","type":"nominal","legend":null}}},
{"data":{"name":"tips"},"mark":{"type":"rule","strokeWidth":1},"encoding":{
"x":{"field":"start","type":"quantitative"},"x2":{"field":"end"},"y":{"field":"row","type":"quantitative","axis":null},
"color":{"field":"region","type":"nominal","legend":null}}},
{"data":{"name":"spine"},"mark":{"type":"rule","strokeWidth":1.5,"stroke":"#3a3a3a"},"encoding":{
"x":{"field":"x","type":"quantitative"},"x2":{"field":"x2"},"y":{"field":"y","type":"quantitative","axis":null},"y2":{"field":"y2"}}},
{"data":{"name":"branches"},"transform":[{"filter":"datum.x==datum.x2 && datum.x>2005"}],"mark":{"type":"point","filled":true,"size":2,"color":"#000","opacity":0.9},"encoding":{
"x":{"field":"x","type":"quantitative"},"y":{"field":"y","type":"quantitative","axis":null}}},
{"data":{"name":"tips"},"mark":{"type":"text","align":"left","baseline":"middle","dx":5,"font":"Liberation Serif","fontSize":5.6,"fontWeight":"bold"},"encoding":{
"x":{"datum":2021.2},"y":{"field":"row","type":"quantitative","axis":null},"text":{"field":"label"},
"color":{"field":"region","type":"nominal","legend":null}}},
{"data":{"name":"tips"},"transform":[{"filter":"datum.row==12"}],"mark":{"type":"text","align":"left","baseline":"middle","dx":95,"font":"Liberation Serif","fontSize":5.6,"fontStyle":"italic","fontWeight":"bold"},"encoding":{
"x":{"datum":2021.2},"y":{"field":"row","type":"quantitative","axis":null},"text":{"field":"note"},
"color":{"field":"region","type":"nominal","legend":null}}},
{"data":{"name":"tips"},"transform":[{"filter":"datum.row==102"}],"mark":{"type":"text","align":"left","baseline":"middle","dx":70,"font":"Liberation Serif","fontSize":5.6,"fontStyle":"italic","fontWeight":"bold"},"encoding":{
"x":{"datum":2021.2},"y":{"field":"row","type":"quantitative","axis":null},"text":{"field":"note"},
"color":{"field":"region","type":"nominal","legend":null}}},
{"data":{"name":"one"},"mark":{"type":"rule","stroke":"#000","strokeWidth":1},"encoding":{"x":{"datum":1905.5},"x2":{"datum":2030},"y":{"datum":165.8,"axis":null}}},
{"data":{"name":"minor"},"mark":{"type":"rule","stroke":"#000","strokeWidth":0.6},"encoding":{"x":{"field":"year","type":"quantitative"},"y":{"datum":165.8,"axis":null},"y2":{"datum":166.1}}},
{"data":{"name":"one"},"mark":{"type":"rule","stroke":"#333","strokeWidth":0.8},"encoding":{"x":{"datum":1958.3},"x2":{"datum":1968.3},"y":{"datum":164.2,"axis":null}}},
{"data":{"name":"one"},"mark":{"type":"text","text":"10.0","fontSize":4,"color":"#555","font":"Liberation Serif"},"encoding":{"x":{"datum":1963.3},"y":{"datum":165.1,"axis":null}}},
{"data":{"name":"one"},"mark":{"type":"rect","fill":null,"stroke":"#222","strokeWidth":1.6},"encoding":{"x":{"datum":1926.67},"x2":{"datum":1966.18},"y":{"datum":22.72,"axis":null},"y2":{"datum":39.05}}},
{"data":{"name":"one"},"mark":{"type":"rect","fill":null,"stroke":"#222","strokeWidth":1.6},"encoding":{"x":{"datum":1926.67},"x2":{"datum":1966.18},"y":{"datum":43.34,"axis":null},"y2":{"datum":97.59}}},
{"data":{"name":"one"},"mark":{"type":"rect","fill":"#1fa5e5"},"encoding":{"x":{"datum":2054.6},"x2":{"datum":2059.4},"y":{"datum":-3.69,"axis":null},"y2":{"datum":-1.95}}},
{"data":{"name":"one"},"mark":{"type":"rect","fill":"#ffb400"},"encoding":{"x":{"datum":2060.9},"x2":{"datum":2071.85},"y":{"datum":-3.69,"axis":null},"y2":{"datum":-1.95}}},
{"data":{"name":"one"},"mark":{"type":"text","text":"E2","fontSize":10.5,"fontWeight":"bold","font":"Liberation Serif","color":"#000","baseline":"middle"},"encoding":{"x":{"datum":2057},"y":{"datum":-2.82,"axis":null}}},
{"data":{"name":"one"},"mark":{"type":"text","text":"E1","fontSize":10.5,"fontWeight":"bold","font":"Liberation Serif","color":"#000","baseline":"middle"},"encoding":{"x":{"datum":2066.4},"y":{"datum":-2.82,"axis":null}}},
{"data":{"name":"one"},"mark":{"type":"text","text":"264","fontSize":12,"fontWeight":"bold","font":"Liberation Serif","color":"#111","baseline":"middle"},"encoding":{"x":{"datum":2057},"y":{"datum":-0.56,"axis":null}}},
{"data":{"name":"one"},"mark":{"type":"text","text":"211","fontSize":12,"fontWeight":"bold","font":"Liberation Serif","color":"#111","baseline":"middle"},"encoding":{"x":{"datum":2063.25},"y":{"datum":-0.56,"axis":null}}},
{"data":{"name":"one"},"mark":{"type":"text","text":"226","fontSize":12,"fontWeight":"bold","font":"Liberation Serif","color":"#111","baseline":"middle"},"encoding":{"x":{"datum":2069.4},"y":{"datum":-0.56,"axis":null}}}
]}
